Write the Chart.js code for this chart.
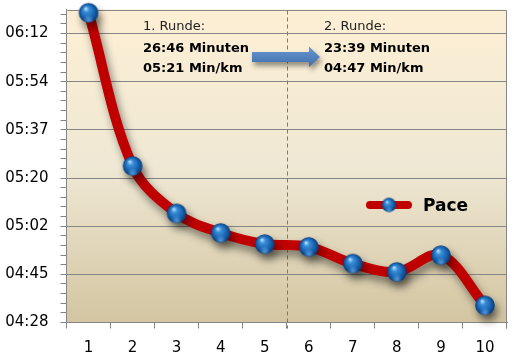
<!DOCTYPE html>
<html><head><meta charset="utf-8">
<script src="https://cdn.jsdelivr.net/npm/chart.js@4"></script>
<style>html,body{margin:0;padding:0;background:#fff;overflow:hidden}</style>
</head><body>
<canvas id="c" width="514" height="356"></canvas>
<script>
// ---- data ----
const kmLabels = ['1','2','3','4','5','6','7','8','9','10'];
const paceValues = ['06:19','05:24','05:07','05:00','04:56','04:55','04:49','04:46','04:52','04:34'];
const seriesName = 'Pace';
const yTickLabels = ['04:28','04:45','05:02','05:20','05:37','05:54','06:12'];
const yTickDays = [0.0031,0.0033,0.0035,0.0037,0.0039,0.0041,0.0043];
const yMaxDays = 0.0044;
const yMinorPerMajor = 5;
const round1Text = ['1. Runde:','26:46 Minuten','05:21 Min/km'];
const round2Text = ['2. Runde:','23:39 Minuten','04:47 Min/km'];

// ---- helpers ----
const toSec = s => { const [m, ss] = s.split(':').map(Number); return m*60 + ss; };
const paceSec = paceValues.map(toSec);
const yTickSec = yTickDays.map(d => d*86400);
const yMin = yTickSec[0], yMax = yMaxDays*86400;
const minorStep = (yTickSec[1]-yTickSec[0]) / yMinorPerMajor;
const FONT = "'DejaVu Sans'";
const GRID = '#868686';

function makeSphere(r) {
  const s = Math.ceil(r*2)+2;
  const cv = document.createElement('canvas'); cv.width = s; cv.height = s;
  const g = cv.getContext('2d');
  const c = s/2;
  const grad = g.createRadialGradient(c - r*0.3, c - r*0.45, r*0.05, c, c, r);
  grad.addColorStop(0, '#b5dcff');
  grad.addColorStop(0.25, '#3a8ed8');
  grad.addColorStop(0.7, '#1760ad');
  grad.addColorStop(1, '#0a3a74');
  g.fillStyle = grad; g.beginPath(); g.arc(c,c,r,0,Math.PI*2); g.fill();
  const g2 = g.createRadialGradient(c, c + r*0.75, 0, c, c + r*0.75, r*0.55);
  g2.addColorStop(0,'rgba(110,180,240,0.7)'); g2.addColorStop(1,'rgba(110,180,240,0)');
  g.fillStyle = g2; g.beginPath(); g.arc(c,c,r,0,Math.PI*2); g.fill();
  return cv;
}
const sphere = makeSphere(9.8);
const smallSphere = makeSphere(7.2);

const zeroPad = s => { s.paddingTop = 0; s.paddingBottom = 0; s.paddingLeft = 0; s.paddingRight = 0; };

const decor = {
  id: 'decor',
  beforeDraw(chart) {
    const {ctx, chartArea: a} = chart;
    const gr = ctx.createLinearGradient(0, a.top, 0, a.bottom);
    gr.addColorStop(0, '#fdefd4');
    gr.addColorStop(0.5, '#efe8d4');
    gr.addColorStop(1, '#d3c5a1');
    ctx.save(); ctx.fillStyle = gr; ctx.fillRect(a.left, a.top, a.right-a.left, a.bottom-a.top); ctx.restore();
  },
  beforeDatasetsDraw(chart) {
    const {ctx, chartArea: a, scales: {x}} = chart;
    ctx.save();
    ctx.strokeStyle = GRID; ctx.lineWidth = 1;
    ctx.beginPath();
    ctx.moveTo(Math.round(a.left)+0.5, Math.round(a.top)+0.5);
    ctx.lineTo(Math.round(a.right)-0.5, Math.round(a.top)+0.5);
    ctx.lineTo(Math.round(a.right)-0.5, a.bottom+6);
    ctx.stroke();
    const xd = Math.round((x.getPixelForValue(4) + x.getPixelForValue(5))/2) + 0.5;
    ctx.strokeStyle = '#4f81bd'; ctx.setLineDash([4,3]);
    ctx.beginPath(); ctx.moveTo(xd, a.top+1); ctx.lineTo(xd, a.bottom+6); ctx.stroke();
    ctx.restore();
  },
  beforeDatasetDraw(chart) {
    const ctx = chart.ctx;
    ctx.save();
    ctx.shadowColor = 'rgba(0,0,0,0.45)';
    ctx.shadowBlur = 8; ctx.shadowOffsetX = 3; ctx.shadowOffsetY = 6;
  },
  afterDatasetDraw(chart) { chart.ctx.restore(); },
  afterDraw(chart) {
    const {ctx} = chart;
    ctx.save();
    ctx.save();
    ctx.shadowColor = 'rgba(0,0,0,0.4)'; ctx.shadowBlur = 5; ctx.shadowOffsetX = 2; ctx.shadowOffsetY = 4;
    const ag = ctx.createLinearGradient(0, 46, 0, 67);
    ag.addColorStop(0, '#6c9ad2'); ag.addColorStop(1, '#3d6dab');
    ctx.fillStyle = ag;
    ctx.beginPath();
    ctx.moveTo(252, 52); ctx.lineTo(309, 52); ctx.lineTo(309, 46.5); ctx.lineTo(320, 57);
    ctx.lineTo(309, 67); ctx.lineTo(309, 62); ctx.lineTo(252, 62); ctx.closePath(); ctx.fill();
    ctx.restore();
    ctx.textAlign = 'left'; ctx.textBaseline = 'alphabetic';
    const drawBlock = (lines, x) => {
      ctx.font = `13px ${FONT}`; ctx.fillStyle = '#222'; ctx.fillText(lines[0], x, 30);
      ctx.font = `bold 13px ${FONT}`; ctx.fillStyle = '#000';
      ctx.fillText(lines[1], x, 51.5);
      ctx.fillText(lines[2], x, 72);
    };
    drawBlock(round1Text, 143);
    drawBlock(round2Text, 324);
    ctx.strokeStyle = '#c00000'; ctx.lineWidth = 8; ctx.lineCap = 'round';
    ctx.beginPath(); ctx.moveTo(370, 205); ctx.lineTo(408, 205); ctx.stroke();
    ctx.drawImage(smallSphere, 389 - smallSphere.width/2, 205 - smallSphere.height/2);
    ctx.font = `bold 17px ${FONT}`; ctx.fillStyle = '#000';
    ctx.fillText(seriesName, 423, 211);
    ctx.restore();
  }
};

new Chart(document.getElementById('c'), {
  type: 'line',
  data: {
    labels: kmLabels,
    datasets: [{
      label: seriesName,
      data: paceSec,
      borderColor: '#c00000',
      borderWidth: 10,
      borderCapStyle: 'round',
      borderJoinStyle: 'round',
      tension: 0.35,
      pointStyle: sphere,
      pointRadius: 10,
      clip: false,
      fill: false
    }]
  },
  options: {
    responsive: false,
    devicePixelRatio: 1,
    animation: false,
    events: [],
    layout: { autoPadding: false, padding: { left: 0, right: 7, top: 9.5, bottom: 0 } },
    plugins: { legend: { display: false }, tooltip: { enabled: false } },
    scales: {
      x: {
        offset: true,
        grid: { offset: true, drawOnChartArea: false, tickLength: 6, tickColor: GRID, color: GRID },
        border: { color: GRID },
        ticks: { color: '#000', font: { family: FONT, size: 15 }, padding: 11, maxRotation: 0 },
        afterFit: s => { s.height = 356 - 322.5; zeroPad(s); }
      },
      y: {
        min: yMin, max: yMax,
        afterBuildTicks: s => {
          const t = [];
          for (let i = 0; yMin + i*minorStep <= yMax + 1e-6; i++) t.push({ value: yMin + i*minorStep, major: i % yMinorPerMajor === 0 });
          s.ticks = t;
        },
        grid: {
          color: c => (c.index % yMinorPerMajor === 0) ? GRID : 'rgba(0,0,0,0)',
          tickColor: GRID, tickLength: 6
        },
        border: { color: GRID },
        ticks: {
          autoSkip: false,
          color: '#000', font: { family: FONT, size: 15 }, padding: 12,
          callback: (v, i) => (i % yMinorPerMajor === 0) ? (yTickLabels[i / yMinorPerMajor] || '') : ''
        },
        afterFit: s => { s.width = 66.5; zeroPad(s); }
      }
    }
  },
  plugins: [decor]
});
</script>
</body></html>
